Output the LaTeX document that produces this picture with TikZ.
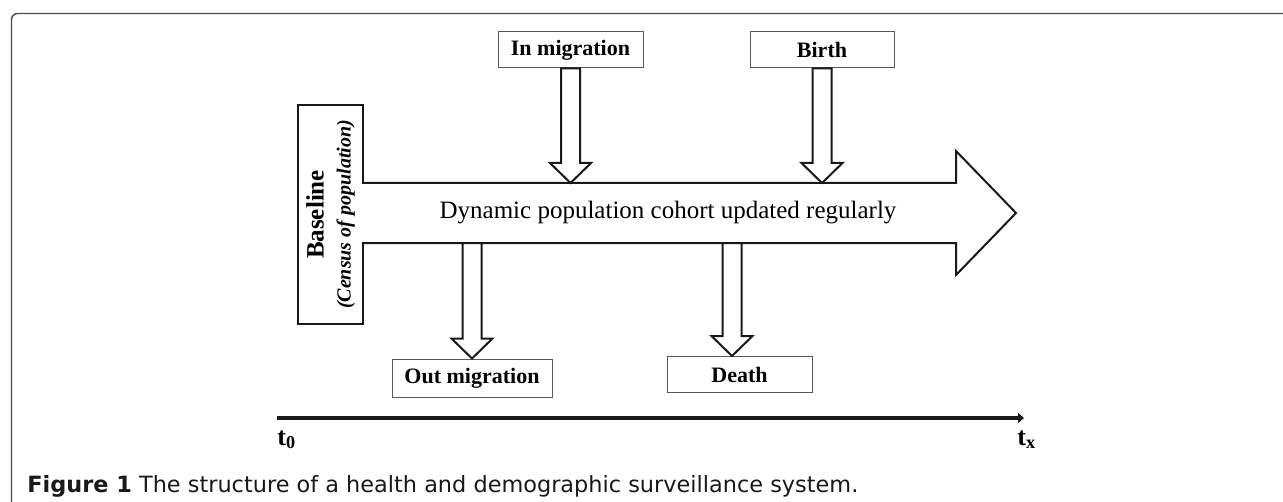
\documentclass[tikz,border=0pt]{standalone}
\usepackage{fontspec}
\setmainfont{Liberation Serif}
\newfontfamily\captionfont{DejaVu Sans}
\usepackage{tikz}
\usetikzlibrary{positioning,calc,arrows.meta}
\tikzstyle{event}=[rectangle, draw=black!65, line width=0.5pt, text centered, text=black, minimum height=18pt, inner sep=0pt, font=\fontsize{11}{13}\selectfont\bfseries]
\tikzstyle{flow}=[draw=black!90, line width=1pt, fill=white, line join=miter]
\tikzstyle{cohort}=[draw=black!90, line width=1pt, fill=white]
\tikzstyle{timelabel}=[inner sep=0pt, font=\fontsize{13}{15}\selectfont\bfseries]
\newcommand{\flowarrow}[2]{%
  \draw[flow] let \p1=(#1), \p2=(#2) in
    (\x2-4.75pt,\y1) -- (\x2-4.75pt,\y2+10pt) -- (\x2-10.25pt,\y2+10pt) -- (\x2,\y2)
    -- (\x2+10.25pt,\y2+10pt) -- (\x2+4.75pt,\y2+10pt) -- (\x2+4.75pt,\y1) -- cycle;}

\begin{document}
\begin{tikzpicture}[x=0.5pt, y=-0.5pt]
    \useasboundingbox (0,0) rectangle (1283,502);
    % frame
    \draw[black!70, line width=0.7pt, rounded corners=3pt] (1300,13.5) -- (11.5,13.5) -- (11.5,520);

    \node (baseline) [draw=black!90, line width=1pt, rotate=90, minimum width=109.5pt, minimum height=32.5pt, inner sep=0pt, align=center, font=\fontsize{10}{13.5}\selectfont] at (330.5,214.5) {{\fontsize{12.5}{13.5}\selectfont\bfseries Baseline}\\{\bfseries\itshape (Census of population)}};

    % cohort arrow
    \coordinate (cohorttop) at (363,183);
    \coordinate (cohortbot) at (363,243);
    \draw[cohort] ([xshift=-0.6pt]cohorttop) -- (956,183) -- (956,151) -- (1016,213) -- (956,275) -- (956,243) -- ([xshift=-0.6pt]cohortbot);
    \node (cohorttext) [font=\fontsize{12.5}{15}\selectfont] at (668,213) {Dynamic population cohort updated regularly};

    \node (inmig) [event, minimum width=72.5pt] at (570.5,50) {In migration};
    \node (birth) [event, minimum width=72pt, right=53pt of inmig] {Birth};
    \node (outmig) [event, minimum width=80pt, minimum height=19pt] at (472,378) {Out migration};
    \node (death) [event, minimum width=72.5pt, right=57pt of outmig, yshift=1.75pt] {Death};

    \flowarrow{inmig.south}{inmig.south |- cohorttop}
    \flowarrow{birth.south}{birth.south |- cohorttop}
    \flowarrow{cohortbot}{outmig.north}
    \flowarrow{cohortbot}{[xshift=-3.75pt]death.north}

    % time axis
    \coordinate (tstart) at (277,418);
    \coordinate (tend) at (1024,418);
    \draw[line width=2pt, black!90, -{Triangle[length=3pt,width=5pt]}] (tstart) -- (tend);
    \node (tzero) [timelabel, anchor=base west] at (277,445) {t\textsubscript{0}};
    \node (tx) [timelabel, anchor=base west] at (1017,445) {t\textsubscript{x}};

    \node (caption) [anchor=base west, inner sep=0pt, text=black!90, font=\captionfont\fontsize{11.2}{13}\selectfont] at (27,492) {\textbf{Figure 1} The structure of a health and demographic surveillance system.};
\end{tikzpicture}
\end{document}
